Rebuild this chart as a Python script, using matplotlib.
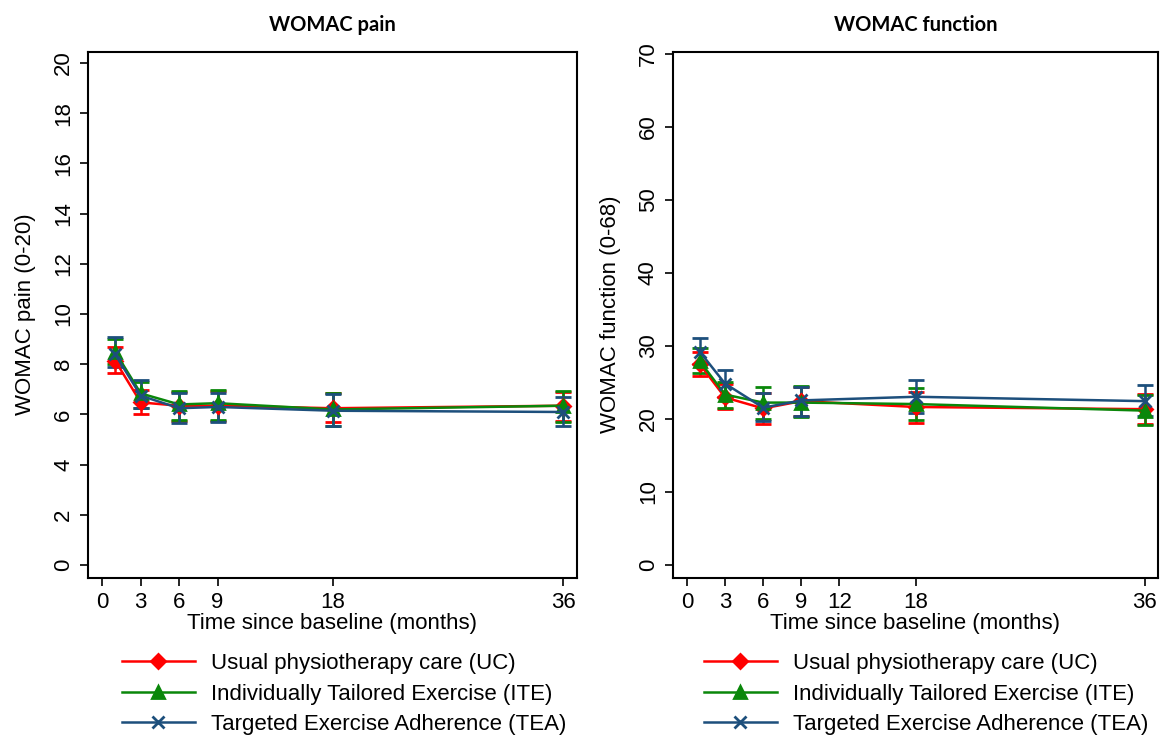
import numpy as np
import matplotlib
matplotlib.use("Agg")
import matplotlib.pyplot as plt
from matplotlib.lines import Line2D

plt.rcParams["font.family"] = ["Liberation Sans", "DejaVu Sans"]

months = [1, 3, 6, 9, 18, 36]
groups = ["Usual physiotherapy care (UC)",
          "Individually Tailored Exercise (ITE)",
          "Targeted Exercise Adherence (TEA)"]

# WOMAC pain: mean, lower and upper CI per group
pain_mean = {
    "UC": [8.15, 6.48, 6.35, 6.35, 6.25, 6.35],
    "ITE": [8.5, 6.84, 6.4, 6.45, 6.2, 6.35],
    "TEA": [8.4, 6.75, 6.25, 6.3, 6.15, 6.1],
}
pain_lo = {
    "UC": [7.66, 6.02, 5.75, 5.75, 5.7, 5.75],
    "ITE": [8.0, 6.25, 5.8, 5.8, 5.55, 5.72],
    "TEA": [7.9, 6.26, 5.65, 5.7, 5.55, 5.54],
}
pain_hi = {
    "UC": [8.7, 6.97, 6.9, 6.92, 6.85, 6.9],
    "ITE": [9.0, 7.3, 6.95, 6.97, 6.85, 6.95],
    "TEA": [9.07, 7.37, 6.85, 6.85, 6.8, 6.7],
}

# WOMAC function
func_mean = {
    "UC": [27.5, 22.9, 21.4, 22.4, 21.6, 21.3],
    "ITE": [27.9, 23.3, 22.2, 22.2, 22.0, 21.1],
    "TEA": [29.2, 24.8, 21.5, 22.5, 23.0, 22.4],
}
func_lo = {
    "UC": [25.8, 21.3, 19.3, 20.3, 19.4, 19.2],
    "ITE": [26.2, 21.5, 20.0, 20.2, 19.8, 19.1],
    "TEA": [27.5, 23.0, 19.7, 20.4, 20.8, 20.3],
}
func_hi = {
    "UC": [29.2, 24.8, 23.5, 24.4, 23.6, 23.4],
    "ITE": [29.7, 25.0, 24.3, 24.5, 24.2, 23.2],
    "TEA": [31.0, 26.6, 23.5, 24.4, 25.3, 24.6],
}

keys = ["UC", "ITE", "TEA"]
colors = {"UC": "#ff0000", "ITE": "#0a870a", "TEA": "#1d4f7c"}
markers = {"UC": "D", "ITE": "^", "TEA": "x"}
msize = {"UC": 7, "ITE": 8, "TEA": 8}

fig = plt.figure(figsize=(11.65, 7.38), dpi=100)
ax1 = fig.add_axes([0.0755, 0.2172, 0.4195, 0.7128])
ax2 = fig.add_axes([0.5774, 0.2172, 0.4166, 0.7128])


def draw_panel(ax, mean, lo, hi, title, ylabel, yticks, ylim, xticks):
    for k in keys:
        m = np.array(mean[k])
        err = np.vstack([m - np.array(lo[k]), np.array(hi[k]) - m])
        ax.errorbar(months, m, yerr=err, color=colors[k], marker=markers[k],
                    ms=msize[k], mew=2, lw=1.8, elinewidth=1.8,
                    capsize=6, capthick=1.8)
    ax.set_xlim(-1.12, 37.05)
    ax.set_ylim(*ylim)
    ax.set_xticks(xticks)
    ax.set_yticks(yticks)
    ax.tick_params(axis="both", direction="out", length=6, width=1.2,
                   labelsize=16, pad=4)
    plt.setp(ax.get_yticklabels(), rotation=90, va="center")
    for s in ax.spines.values():
        s.set_linewidth(1.5)
    ax.set_title(title, fontsize=14.5, fontweight="bold", family="Lato", pad=15)
    ax.set_ylabel(ylabel, fontsize=16, labelpad=12)
    ax.set_xlabel("Time since baseline (months)", fontsize=16, labelpad=0)


draw_panel(ax1, pain_mean, pain_lo, pain_hi, "WOMAC pain", "WOMAC pain (0-20)",
           np.arange(0, 21, 2), (-0.5, 20.45), [0, 3, 6, 9, 18, 36])
draw_panel(ax2, func_mean, func_lo, func_hi, "WOMAC function",
           "WOMAC function (0-68)", np.arange(0, 71, 10), (-1.8, 70.3),
           [0, 3, 6, 9, 12, 18, 36])

handles = [Line2D([], [], color=colors[k], marker=markers[k], ms=msize[k],
                  mew=2, lw=1.8) for k in keys]
for xa in (0.1045, 0.604):
    fig.legend(handles, groups, loc="center left", bbox_to_anchor=(xa, 0.0596),
               frameon=False, fontsize=16, handlelength=3.3,
               handletextpad=0.7, labelspacing=0.42, borderpad=0,
               borderaxespad=0)

fig.savefig("out.png", dpi=100)
